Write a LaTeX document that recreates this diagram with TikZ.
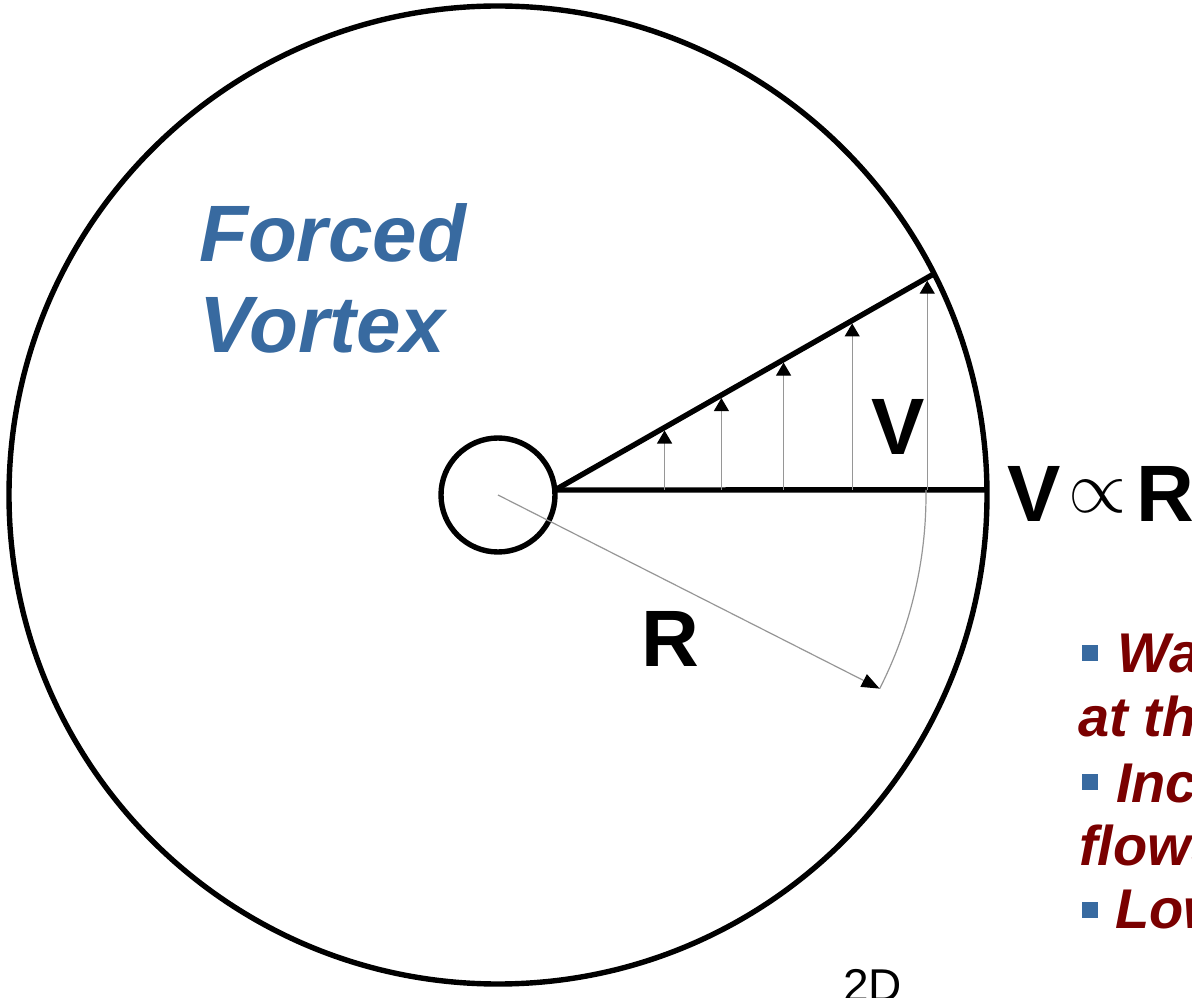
\documentclass[tikz,border=0pt]{standalone}
\usepackage{fontspec}
\setmainfont{Liberation Sans}
\usetikzlibrary{arrows.meta,calc}
\definecolor{vortexblue}{RGB}{56,106,160}
\definecolor{notered}{RGB}{122,0,0}
\definecolor{thingray}{RGB}{150,150,150}
\tikzset{
  wall/.style={line width=5.4pt},
  vel/.style={draw=thingray, line width=1.2pt, -{Triangle[length=13pt,width=15pt,color=black]}},
  radial/.style={draw=thingray, line width=1.2pt, -{Triangle[length=18pt,width=14pt,color=black]}},
  sweep/.style={draw=thingray, line width=1.2pt},
  biglabel/.style={font=\fontsize{80}{80}\selectfont\bfseries, inner sep=0pt, anchor=base west},
  title/.style={font=\fontsize{80}{80}\selectfont\bfseries\itshape, text=vortexblue, inner sep=0pt, anchor=base west},
  note/.style={font=\fontsize{56}{56}\selectfont\bfseries\itshape, text=notered, inner sep=0pt, anchor=base west},
  bullet/.style={fill=vortexblue, minimum size=16pt, inner sep=0pt}
}
\begin{document}
\begin{tikzpicture}[x=1pt,y=1pt]
  \useasboundingbox (0,0) rectangle (1192,997); %
  \clip (0,0) rectangle (1192,997); %
  \coordinate (O) at (498,502); %
  \coordinate (S) at (555,507); %
  \coordinate (E) at ($(O)+(26.9:489)$); %
  \coordinate (H) at ($(O)+(0.6:489)$); %
  \coordinate (Rt) at ($(O)+(-26.9:428)$); %
  \draw[wall] (O) circle[radius=489]; %
  \draw[wall] (O) circle[radius=57]; %
  \draw[wall] (S) -- (H); %
  \draw[wall] (S) -- (E); %
  \foreach \t [count=\i] in {0.289,0.439,0.603,0.784,0.982} {
    \coordinate (T\i) at ($(S)!\t!(E)+(0,-3)$); %
    \draw[vel] (T\i |- S) -- (T\i); %
  }
  \draw[sweep] ($(O)+(0.67:428)$) arc[radius=428, start angle=0.67, end angle=-26.9]; %
  \draw[radial] (O) -- (Rt); %
  \node[biglabel] (Vlab) at (871,542) {V}; %
  \node[biglabel] (Rlab) at (641,330) {R}; %
  \node[biglabel] (propV) at (1007,475) {V}; %
  \node[font=\fontsize{24}{24}\selectfont, scale=3, inner sep=0pt] (propSym) at (1098,501) {$\propto$}; %
  \node[biglabel] (propR) at (1136,475) {R}; %
  \node[title] (forced) at (199,735) {Forced}; %
  \node[title] (vortex) at (199,644) {Vortex}; %
  \node[bullet] (b1) at (1090,343.5) {}; %
  \node[bullet] (b2) at (1090,215) {}; %
  \node[bullet] (b3) at (1090,87) {}; %
  \node[note] (n1) at (1117,324) {Wa}; %
  \node[note] (n2) at (1078,260) {at th}; %
  \node[note] (n3) at (1116,195) {Inc}; %
  \node[note] (n4) at (1079,132) {flows}; %
  \node[note] (n5) at (1115,69) {Low}; %
  \node[font=\fontsize{46}{46}\selectfont, inner sep=0pt, anchor=base west] (dim) at (843,-4) {2D}; %
\end{tikzpicture}
\end{document}
